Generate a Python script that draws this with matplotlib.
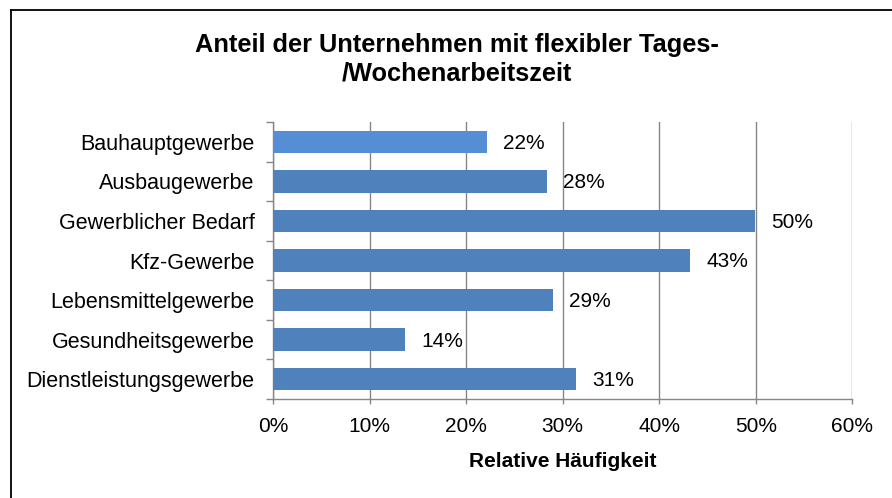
import matplotlib
matplotlib.use("Agg")
import matplotlib.pyplot as plt
from matplotlib.lines import Line2D
import numpy as np

plt.rcParams['font.family'] = ['Liberation Sans', 'DejaVu Sans']

categories = ["Bauhauptgewerbe", "Ausbaugewerbe", "Gewerblicher Bedarf", "Kfz-Gewerbe",
              "Lebensmittelgewerbe", "Gesundheitsgewerbe", "Dienstleistungsgewerbe"]
values = [22.2, 28.4, 49.9, 43.2, 29.0, 13.7, 31.4]
xticks = [0, 10, 20, 30, 40, 50, 60]
title_lines = ["Anteil der Unternehmen mit flexibler Tages-", "/Wochenarbeitszeit"]
xlabel = "Relative Häufigkeit"

W, H = 892, 498
fig = plt.figure(figsize=(W / 100, H / 100), dpi=100)
ax = fig.add_axes([273.3 / W, 1 - 399 / H, (852.2 - 273.3) / W, (399 - 122) / H])

colors = ["#558ED5"] + ["#4F81BD"] * (len(values) - 1)
y = np.arange(len(categories))
ax.barh(y, values, height=0.57, color=colors, zorder=3)

for yi, v in zip(y, values):
    ax.annotate(f"{v:.0f}%", xy=(v, yi), xytext=(11.5, -1), textcoords="offset points",
                ha="left", va="center", fontsize=15, color="black", zorder=4)

ax.set_xlim(0, 60)
ax.set_ylim(len(categories) - 0.5, -0.5)
ax.set_xticks(xticks)
ax.set_xticklabels([f"{t}%" for t in xticks], fontsize=15)
ax.set_yticks(y)
ax.set_yticklabels(categories, fontsize=15.5)
ax.set_yticks(np.arange(-0.5, len(categories), 1), minor=True)

gray = "#868686"
ax.tick_params(axis="y", which="major", length=0, pad=13.5)
ax.tick_params(axis="y", which="minor", length=4.8, width=1, color=gray, direction="out")
ax.tick_params(axis="x", which="major", length=3.8, width=1, color=gray, pad=9)
ax.grid(axis="x", color=gray, linewidth=1, zorder=0)
for s in ["top", "right"]:
    ax.spines[s].set_visible(False)
for s in ["left", "bottom"]:
    ax.spines[s].set_color(gray)
    ax.spines[s].set_linewidth(1)

for line, ypix in zip(title_lines, [45, 73]):
    fig.text(457 / W, 1 - ypix / H, line, ha="center", va="center", fontsize=18.3,
             fontweight="bold")
fig.text((273.3 + 852.2) / 2 / W, 1 - 461 / H, xlabel, ha="center", va="center",
         fontsize=15, fontweight="bold")

fig.add_artist(Line2D([11 / W, 1.0], [1 - 10 / H, 1 - 10 / H], color="black", lw=1.3,
                      transform=fig.transFigure))
fig.add_artist(Line2D([11 / W, 11 / W], [1 - 10 / H, 0.0], color="black", lw=1.3,
                      transform=fig.transFigure))

fig.savefig("out.png", dpi=100, facecolor="white")
